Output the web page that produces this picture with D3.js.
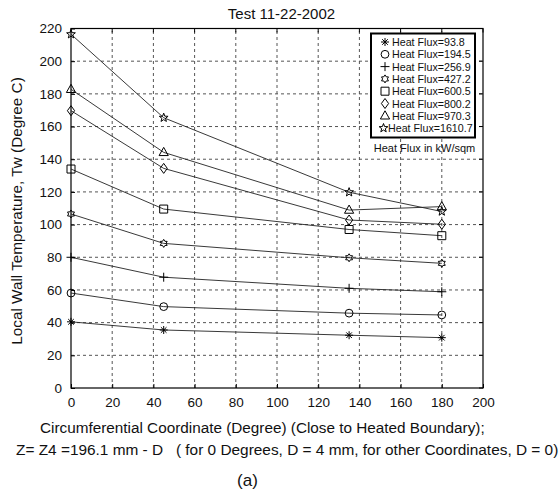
<!DOCTYPE html>
<html>
<head>
<meta charset="utf-8">
<script src="https://cdn.jsdelivr.net/npm/d3@7"></script>
<style>
  body { margin: 0; background: #fff; }
  text { font-family: "Liberation Sans", Arial, sans-serif; fill: #111; }
</style>
</head>
<body>
<div id="canvas"></div>
<script>

var angles = [0, 45, 135, 180];
var fluxes = ["93.8", "194.5", "256.9", "427.2", "600.5", "800.2", "970.3", "1610.7"];
var markers = ["asterisk", "circle", "plus", "hexagram", "square", "diamond", "triangle", "pentagram"];

var flux93 = [40.5, 35.5, 32.3, 30.8];
var flux194 = [58.1, 49.8, 45.8, 44.7];
var flux256 = [80, 67.8, 61, 58.9];
var flux427 = [106.5, 88.5, 79.7, 76.3];
var flux600 = [134, 109.5, 97, 93.2];
var flux800 = [169.7, 134.4, 102.8, 100.2];
var flux970 = [182.8, 144.2, 108.9, 111];
var flux1610 = [216.5, 165.4, 119.8, 108];

var xTicks = [0, 20, 40, 60, 80, 100, 120, 140, 160, 180, 200];
var yTicks = [0, 20, 40, 60, 80, 100, 120, 140, 160, 180, 200, 220];

var series = [flux93, flux194, flux256, flux427, flux600, flux800, flux970, flux1610];

var width = 559, height = 492;
var margin = {top: 28.5, right: 76, bottom: 104, left: 71};

var x = d3.scaleLinear().domain([0, 200]).range([margin.left, width - margin.right]);
var y = d3.scaleLinear().domain([0, 220]).range([height - margin.bottom, margin.top]);

var svg = d3.select("#canvas").append("svg")
    .attr("width", width)
    .attr("height", height);

// grid
svg.append("g")
    .selectAll("line")
    .data(xTicks.slice(1, -1)).enter()
    .append("line")
    .attr("x1", function (d) { return x(d); })
    .attr("x2", function (d) { return x(d); })
    .attr("y1", y(0))
    .attr("y2", y(220))
    .attr("stroke", "#555")
    .attr("stroke-dasharray", "3,3");

svg.append("g")
    .selectAll("line")
    .data(yTicks.slice(1, -1)).enter()
    .append("line")
    .attr("y1", function (d) { return y(d); })
    .attr("y2", function (d) { return y(d); })
    .attr("x1", x(0))
    .attr("x2", x(200))
    .attr("stroke", "#555")
    .attr("stroke-dasharray", "3,3");

// axes
var xAxis = svg.append("g")
    .attr("transform", "translate(0," + y(0) + ")")
    .call(d3.axisBottom(x).tickValues(xTicks).tickSize(-4).tickPadding(9));
var yAxis = svg.append("g")
    .attr("transform", "translate(" + x(0) + ",0)")
    .call(d3.axisLeft(y).tickValues(yTicks).tickSize(-4).tickPadding(9));
[xAxis, yAxis].forEach(function (a) {
    a.select(".domain").remove();
    a.selectAll("line").attr("stroke", "#000");
    a.selectAll("text").attr("font-size", "13.5px").attr("font-family", "Liberation Sans, Arial, sans-serif").attr("fill", "#111");
});

// top / right ticks
svg.append("g").selectAll("line")
    .data(xTicks).enter().append("line")
    .attr("x1", function (d) { return x(d); })
    .attr("x2", function (d) { return x(d); })
    .attr("y1", y(220)).attr("y2", y(220) + 4)
    .attr("stroke", "#000");
svg.append("g").selectAll("line")
    .data(yTicks).enter().append("line")
    .attr("y1", function (d) { return y(d); })
    .attr("y2", function (d) { return y(d); })
    .attr("x1", x(200)).attr("x2", x(200) - 4)
    .attr("stroke", "#000");

svg.append("rect")
    .attr("x", x(0)).attr("y", y(220))
    .attr("width", x(200) - x(0))
    .attr("height", y(0) - y(220))
    .attr("fill", "none")
    .attr("stroke", "#000")
    .attr("stroke-width", 1.2);

// marker shapes
function star(n, ro, ri) {
    var p = [];
    for (var i = 0; i < 2 * n; i++) {
        var r = i % 2 ? ri : ro;
        var a = Math.PI * i / n - Math.PI / 2;
        p.push([r * Math.cos(a), r * Math.sin(a)]);
    }
    return "M" + p.join("L") + "Z";
}
function markerPath(m) {
    if (m == "asterisk") return "M0,-4V4M-4,0H4M-2.8,-2.8L2.8,2.8M-2.8,2.8L2.8,-2.8";
    if (m == "circle") return "M3.9,0A3.9,3.9 0 1,1 -3.9,0A3.9,3.9 0 1,1 3.9,0Z";
    if (m == "plus") return "M0,-4.5V4.5M-4.5,0H4.5";
    if (m == "hexagram") return star(6, 4, 2.4);
    if (m == "square") return "M-4,-4H4V4H-4Z";
    if (m == "diamond") return "M0,-5L3.6,0L0,5L-3.6,0Z";
    if (m == "triangle") return "M0,-5L4.6,3.2H-4.6Z";
    if (m == "pentagram") return star(5, 4.6, 1.9);
}

var line = d3.line()
    .x(function (d, i) { return x(angles[i]); })
    .y(function (d) { return y(d); });

series.forEach(function (s, k) {
    svg.append("path")
        .datum(s)
        .attr("d", line)
        .attr("fill", "none")
        .attr("stroke", "#222")
        .attr("stroke-width", 0.9);
    svg.append("g").selectAll("path")
        .data(s).enter()
        .append("path")
        .attr("transform", function (d, i) { return "translate(" + x(angles[i]) + "," + y(d) + ")"; })
        .attr("d", markerPath(markers[k]))
        .attr("fill", "none")
        .attr("stroke", "#000")
        .attr("stroke-width", 1);
});

// legend
var lg = svg.append("g");
lg.append("rect")
    .attr("x", 371).attr("y", 33.5)
    .attr("width", 104).attr("height", 104)
    .attr("fill", "#fff")
    .attr("stroke", "#000")
    .attr("stroke-width", 2);
fluxes.forEach(function (f, i) {
    var yy = 42 + i * 12.3;
    lg.append("path")
        .attr("transform", "translate(" + (i == 7 ? 383.5 : 385) + "," + yy + ")")
        .attr("d", markerPath(markers[i]))
        .attr("fill", "none")
        .attr("stroke", "#000");
    lg.append("text")
        .attr("x", i == 7 ? 388 : 392)
        .attr("y", yy + 4)
        .attr("font-size", "10.7px")
        .text("Heat Flux=" + f);
});
lg.append("text")
    .attr("x", 424.5).attr("y", 151.5)
    .attr("text-anchor", "middle")
    .attr("font-size", "11px")
    .text("Heat Flux in kW/sqm");

// titles
svg.append("text")
    .attr("x", 281.5).attr("y", 19)
    .attr("text-anchor", "middle")
    .attr("font-size", "15px")
    .text("Test 11-22-2002");

svg.append("text")
    .attr("transform", "translate(22," + 211 + ") rotate(-90)")
    .attr("text-anchor", "middle")
    .attr("font-size", "15.3px")
    .text("Local Wall Temperature, Tw (Degree C)");

svg.append("text")
    .attr("x", 40).attr("y", 433)
    .attr("font-size", "15.3px")
    .text("Circumferential Coordinate (Degree) (Close to Heated Boundary);");

svg.append("text")
    .attr("x", 16).attr("y", 455)
    .attr("font-size", "15.4px")
    .attr("xml:space", "preserve")
    .style("white-space", "pre")
    .text("Z= Z4 =196.1 mm - D   ( for 0 Degrees, D = 4 mm, for other Coordinates, D = 0)");

svg.append("text")
    .attr("x", 247.5).attr("y", 486)
    .attr("text-anchor", "middle")
    .attr("font-size", "17px")
    .text("(a)");

</script>
</body>
</html>
